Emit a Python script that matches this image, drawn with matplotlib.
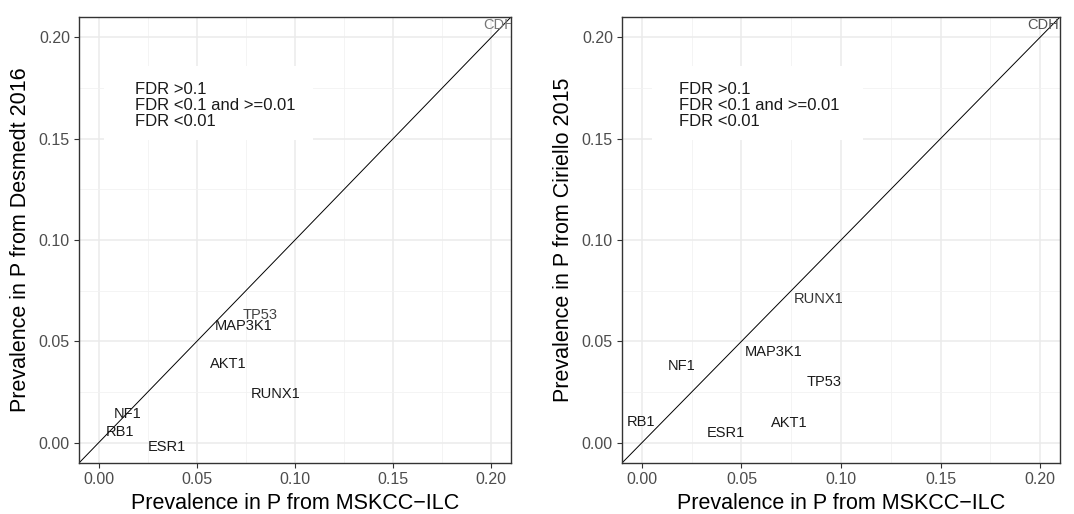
import matplotlib
matplotlib.use("Agg")
import matplotlib.pyplot as plt
from matplotlib.patches import Rectangle

plt.rcParams['font.family'] = ['Liberation Sans', 'DejaVu Sans']

# ---- data (text positions) ----
genes_left = ["CDH1", "TP53", "MAP3K1", "AKT1", "RUNX1", "NF1", "RB1", "ESR1"]
x_left = [0.206, 0.082, 0.074, 0.066, 0.090, 0.015, 0.011, 0.035]
y_left = [0.206, 0.063, 0.0575, 0.039, 0.024, 0.014, 0.0055, -0.002]
col_left = ["#777777", "#444444", "#1a1a1a", "#1a1a1a", "#1a1a1a", "#1a1a1a", "#1a1a1a", "#1a1a1a"]

genes_right = ["CDH1", "RUNX1", "MAP3K1", "NF1", "TP53", "RB1", "ESR1", "AKT1"]
x_right = [0.2035, 0.089, 0.066, 0.020, 0.0915, -0.0005, 0.042, 0.074]
y_right = [0.206, 0.071, 0.0447, 0.038, 0.030, 0.0103, 0.005, 0.0098]
col_right = ["#555555", "#333333", "#1a1a1a", "#1a1a1a", "#1a1a1a", "#1a1a1a", "#1a1a1a", "#1a1a1a"]

legend_labels = ["FDR >0.1", "FDR <0.1 and >=0.01", "FDR <0.01"]
major_ticks = [0.00, 0.05, 0.10, 0.15, 0.20]
minor_ticks = [0.025, 0.075, 0.125, 0.175]
tick_labels = ["0.00", "0.05", "0.10", "0.15", "0.20"]
xlabel = "Prevalence in P from MSKCC\u2212ILC"
ylabels = ["Prevalence in P from Desmedt 2016", "Prevalence in P from Ciriello 2015"]
lims = (-0.01, 0.21)

W, H = 1074, 514
fig = plt.figure(figsize=(W / 100, H / 100), dpi=100)

panels = [
    (79, 511, genes_left, x_left, y_left, col_left, ylabels[0], (104, 313, 135)),
    (622, 1060, genes_right, x_right, y_right, col_right, ylabels[1], (652, 863, 679)),
]
top_px, bot_px = 17, 463

for (l, r, genes, xs, ys, cols, ylab, (bx0, bx1, tx)) in panels:
    ax = fig.add_axes([l / W, 1 - bot_px / H, (r - l) / W, (bot_px - top_px) / H])
    ax.set_xlim(*lims)
    ax.set_ylim(*lims)
    ax.set_xticks(major_ticks)
    ax.set_xticklabels(tick_labels)
    ax.set_yticks(major_ticks)
    ax.set_yticklabels(tick_labels)
    ax.set_xticks(minor_ticks, minor=True)
    ax.set_yticks(minor_ticks, minor=True)
    ax.grid(True, which='major', color='#EBEBEB', linewidth=1.1)
    ax.grid(True, which='minor', color='#F2F2F2', linewidth=0.6)
    ax.set_axisbelow(True)
    ax.tick_params(which='major', length=3.5, width=0.8, color='#333333',
                   labelsize=11.5, labelcolor='#4D4D4D', pad=3)
    ax.tick_params(which='minor', length=0)
    for s in ax.spines.values():
        s.set_color('#333333')
        s.set_linewidth(1.0)
    # identity line
    ax.plot(lims, lims, color='black', linewidth=0.7, zorder=2)
    # legend box
    aw = r - l
    ah = bot_px - top_px
    ax.add_patch(Rectangle(((bx0 - l) / aw, 1 - (140 - top_px) / ah),
                           (bx1 - bx0) / aw, (140 - 66) / ah,
                           transform=ax.transAxes, facecolor='white',
                           edgecolor='none', zorder=1.5))
    for i, lab in enumerate(legend_labels):
        yy = 1 - (89 + 16.3 * i - top_px) / ah
        ax.text((tx - l) / aw, yy, lab, transform=ax.transAxes, fontsize=12,
                color='#1a1a1a', ha='left', va='center', zorder=3)
    for g, x, y, c in zip(genes, xs, ys, cols):
        ax.text(x, y, g, fontsize=10.5, color=c, ha='center', va='center',
                zorder=3, clip_on=True)
    ax.set_xlabel(xlabel, fontsize=15.5, color='black', labelpad=4)
    ax.set_ylabel(ylab, fontsize=15.5, color='black', labelpad=6)

fig.savefig("out.png", dpi=100)
